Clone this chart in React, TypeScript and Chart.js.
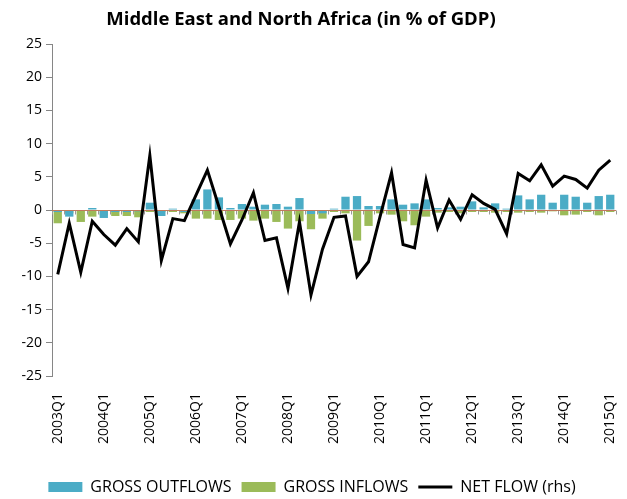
import React, { useEffect, useRef } from 'react';
import { Chart, registerables } from 'chart.js';

Chart.register(...registerables);

const FONT = '"Open Sans", "DejaVu Sans", sans-serif';

const years = [2003, 2004, 2005, 2006, 2007, 2008, 2009, 2010, 2011, 2012, 2013, 2014, 2015];
const quarters = ['Q1', 'Q2', 'Q3', 'Q4'];
const categories: string[] = [];
years.forEach((y) => quarters.forEach((q) => {
  if (y < 2015 || q === 'Q1') categories.push(`${y}${q}`);
}));

const grossOutflows = [
  -0.3, -1.0, 0.0, 0.3, -1.2, -0.3, -0.3, -0.2,
  1.1, -0.9, 0.2, -0.3, 1.6, 3.1, 1.9, 0.3,
  0.9, 0.5, 0.8, 0.9, 0.5, 1.8, -0.6, -0.5,
  0.2, 2.0, 2.1, 0.6, 0.6, 1.6, 0.8, 1.0,
  1.6, 0.3, 0.4, 0.5, 1.3, 0.4, 1.0, 0.2,
  2.2, 1.6, 2.3, 1.1, 2.3, 2.0, 1.1, 2.1,
  2.3,
];

const grossInflows = [
  -2.0, -0.5, -1.8, -1.0, -0.8, -0.9, -0.9, -1.1,
  -0.3, -0.3, -0.3, -0.5, -1.3, -1.3, -1.5, -1.5,
  -1.3, -1.6, -1.3, -1.8, -2.8, -1.7, -2.9, -1.3,
  -0.3, -0.5, -4.6, -2.4, -0.5, -0.7, -1.7, -2.3,
  -1.0, -0.4, -0.3, -0.5, -0.3, -0.3, -0.4, -0.3,
  -0.4, -0.3, -0.4, -0.2, -0.8, -0.7, -0.3, -0.8,
  -0.3,
];

const netFlow = [
  -9.7, -2.0, -9.4, -1.7, -3.7, -5.3, -2.8, -4.8,
  8.2, -7.6, -1.3, -1.6, 2.2, 6.0, 0.5, -5.1,
  -1.5, 2.6, -4.6, -4.2, -11.8, -1.8, -12.8, -5.9,
  -1.1, -0.9, -10.0, -7.8, -1.0, 5.6, -5.2, -5.7,
  4.5, -2.7, 1.5, -1.4, 2.3, 1.0, 0.1, -3.6,
  5.5, 4.4, 6.8, 3.6, 5.1, 4.6, 3.3, 6.0,
  7.5,
];

const yMin = -25;
const yMax = 25;
const yStep = 5;

const TITLE = 'Middle East and North Africa (in % of GDP)';

const decorPlugin = {
  id: 'decor',
  beforeDatasetsDraw(chart: any) {
    const { ctx, chartArea, scales } = chart;
    const y0 = Math.round(scales.y.getPixelForValue(0)) + 0.5;
    ctx.save();
    ctx.strokeStyle = '#9a9a9a';
    ctx.lineWidth = 1;
    const xs = scales.x;
    const n = categories.length;
    const w = (chartArea.right - chartArea.left) / n;
    ctx.beginPath();
    for (let i = 0; i <= n; i++) {
      const x = Math.round(xs.getPixelForValue(0) - w / 2 + i * w) + 0.5;
      ctx.moveTo(x, y0);
      ctx.lineTo(x, y0 + 4);
    }
    ctx.stroke();
    ctx.restore();
  },
  afterDatasetDraw(chart: any, args: any) {
    if (args.index !== 0) return;
    const { ctx, chartArea, scales } = chart;
    const y0 = Math.round(scales.y.getPixelForValue(0)) + 0.5;
    ctx.save();
    ctx.strokeStyle = '#c07a5a';
    ctx.lineWidth = 1;
    ctx.beginPath();
    ctx.moveTo(chartArea.left, y0);
    ctx.lineTo(chartArea.right, y0);
    ctx.stroke();
    ctx.restore();
  },
  afterDraw(chart: any) {
    const { ctx } = chart;
    ctx.save();
    ctx.font = `bold 18.5px ${FONT}`;
    ctx.fillStyle = '#000';
    ctx.textAlign = 'center';
    ctx.textBaseline = 'middle';
    ctx.fillText(TITLE, 301, 20);
    ctx.restore();
  },
};

export default function App() {
  const ref = useRef<HTMLCanvasElement | null>(null);

  useEffect(() => {
    if (!ref.current) return;
    const chart = new Chart(ref.current, {
      type: 'bar',
      data: {
        labels: categories,
        datasets: [
          {
            type: 'bar',
            label: 'GROSS OUTFLOWS',
            data: grossOutflows,
            backgroundColor: '#4bacc6',
            borderWidth: 0,
            barPercentage: 0.72,
            categoryPercentage: 1,
            grouped: false,
            order: 1,
          } as any,
          {
            type: 'bar',
            label: 'GROSS INFLOWS',
            data: grossInflows,
            backgroundColor: '#9bbb59',
            borderWidth: 0,
            barPercentage: 0.72,
            categoryPercentage: 1,
            grouped: false,
            order: 2,
          } as any,
          {
            type: 'line',
            label: 'NET FLOW (rhs)',
            data: netFlow,
            borderColor: '#000000',
            backgroundColor: '#000000',
            borderWidth: 3,
            pointRadius: 0,
            tension: 0,
            order: 0,
          } as any,
        ],
      },
      options: {
        animation: false,
        responsive: false,
        maintainAspectRatio: false,
        layout: { padding: { left: 8, right: 11, top: 44, bottom: -6 } },
        plugins: {
          title: { display: false },
          tooltip: { enabled: false },
          legend: {
            display: true,
            position: 'bottom',
            labels: {
              usePointStyle: true,
              pointStyleWidth: 34,
              boxHeight: 10,
              padding: 10,
              color: '#000',
              font: { family: FONT, size: 16 },
              generateLabels: (c: any) => {
                const items = (Chart.defaults as any).plugins.legend.labels.generateLabels(c);
                return items
                  .map((it: any) => {
                    const isLine = it.datasetIndex === 2;
                    return {
                      ...it,
                      pointStyle: isLine ? 'line' : 'rect',
                      lineWidth: isLine ? 3 : 0,
                      strokeStyle: isLine ? '#000' : it.fillStyle,
                    };
                  })
                  .sort((a: any, b: any) => a.datasetIndex - b.datasetIndex);
              },
            },
          },
        },
        scales: {
          x: {
            type: 'category',
            grid: { display: false },
            border: { display: false },
            ticks: {
              autoSkip: false,
              maxRotation: 90,
              minRotation: 90,
              padding: 9,
              color: '#000',
              font: { family: FONT, size: 14 },
              callback: (_v: any, i: number) => (i % 4 === 0 ? categories[i] : ''),
            },
            afterFit: (s: any) => {
              s.height = 93;
              s.paddingLeft = 0;
              s.paddingRight = 0;
            },
          },
          y: {
            min: yMin,
            max: yMax,
            ticks: {
              stepSize: yStep,
              color: '#000',
              padding: 4,
              font: { family: FONT, size: 14 },
            },
            grid: { drawOnChartArea: false, drawTicks: true, tickLength: 6, color: '#868686' },
            border: { display: true, color: '#868686' },
            afterFit: (s: any) => { s.width = 44; },
          },
        },
      },
      plugins: [decorPlugin],
    });
    return () => chart.destroy();
  }, []);

  return (
    <div style={{ position: 'fixed', left: 0, top: 0, width: 627, height: 499, background: '#fff' }}>
      <canvas ref={ref} width={627} height={499} style={{ display: 'block' }} />
    </div>
  );
}
